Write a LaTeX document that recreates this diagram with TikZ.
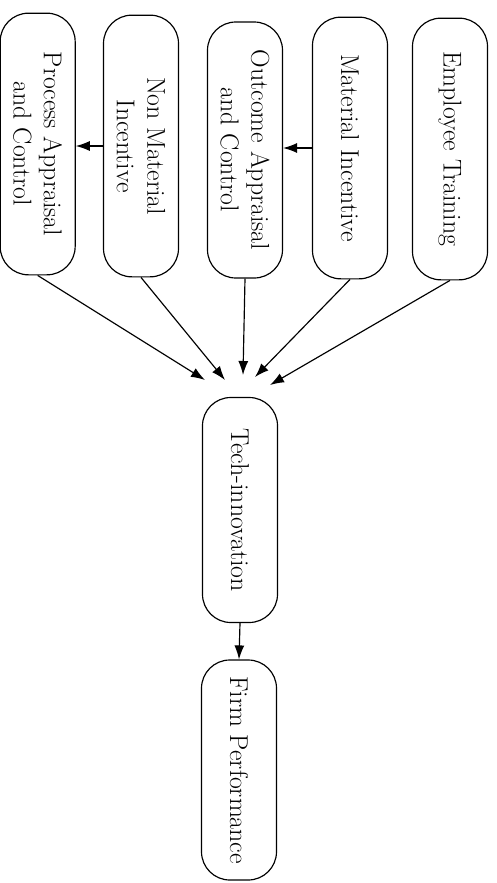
\documentclass[tikz,border=0pt]{standalone}
\usetikzlibrary{arrows.meta}
\tikzset{
  factor/.style={draw, line width=1pt, rounded corners=0.85cm, rotate=-90,
    minimum width=7.85cm, minimum height=2.25cm, align=center,
    font=\fontsize{22}{26}\selectfont},
  link/.style={-{Latex[length=0.42cm,width=0.3cm]}, line width=1pt}
}
\begin{document}
\begin{tikzpicture}
\useasboundingbox (0,0) rectangle (14.88,-26.49);
% upper row of factors
\node[factor] (emp) at (13.5,-4.47) {Employee Training};
\node[factor] (mat) at (10.5,-4.44) {Material Incentive};
\node[factor, minimum width=7.68cm] (out) at (7.35,-4.5) {Outcome Appraisal\\and Control};
\node[factor] (non) at (4.23,-4.38) {Non Material\\Incentive};
\node[factor] (pro) at (1.13,-4.32) {Process Appraisal\\and Control};
% innovation and performance
\node[factor, minimum width=6.75cm] (tech) at (7.2,-15.3) {Tech-innovation};
\node[factor, minimum width=6.6cm] (firm) at (7.17,-23.1) {Firm Performance};
% arrow ends
\coordinate (e1) at (8.1,-11.55);
\coordinate (e2) at (7.65,-11.31);
\coordinate (e3) at (7.29,-11.25);
\coordinate (e4) at (6.75,-11.4);
\coordinate (e5) at (6.15,-11.4);
\draw[link] (emp.east) -- (e1);
\draw[link] (mat.east) -- (e2);
\draw[link] (out.east) -- (e3);
\draw[link] (non.east) -- (e4);
\draw[link] (pro.east) -- (e5);
\draw[link] (mat.south) -- (mat.south -| out.north);
\draw[link] (non.south) -- (non.south -| pro.north);
\draw[link] (tech.east) -- (firm.west);
\end{tikzpicture}
\end{document}
